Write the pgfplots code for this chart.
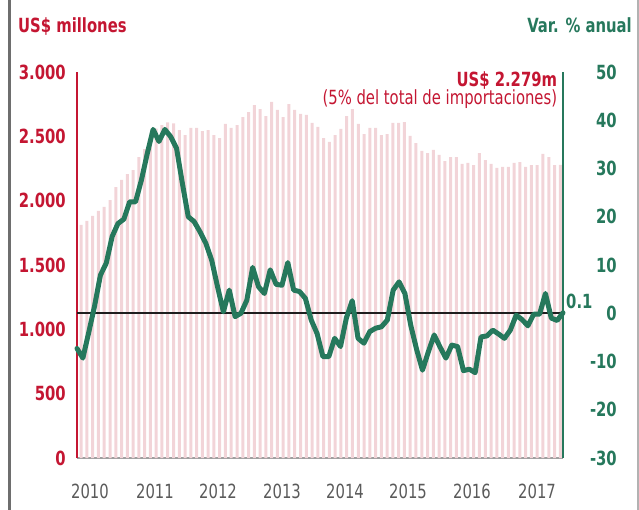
\documentclass[border=0pt]{standalone}
\usepackage{pgfplots}
\usepackage{pgfplotstable}
\pgfplotsset{compat=1.18}
\usepackage{fontspec}
\setmainfont{DejaVu Sans}[FakeStretch=0.76]
\definecolor{cred}{RGB}{196,22,50}
\definecolor{cgreen}{RGB}{38,120,92}
\definecolor{cbar}{RGB}{242,212,216}
\definecolor{cgray}{RGB}{90,90,90}
\definecolor{cframe}{RGB}{110,110,110}
\newcommand{\fs}{\fontsize{19.5bp}{23bp}\selectfont}

\pgfplotstableread{
i v
0 1811
1 1842
2 1881
3 1920
4 1951
5 2005
6 2106
7 2161
8 2207
9 2238
10 2339
11 2400
12 2480
13 2560
14 2588
15 2609
16 2601
17 2549
18 2510
19 2565
20 2565
21 2541
22 2549
23 2510
24 2487
25 2596
26 2565
27 2588
28 2650
29 2689
30 2743
31 2712
32 2658
33 2767
34 2705
35 2650
36 2751
37 2705
38 2674
39 2666
40 2604
41 2573
42 2487
43 2456
44 2510
45 2557
46 2658
47 2712
48 2596
49 2518
50 2565
51 2565
52 2510
53 2518
54 2604
55 2604
56 2611
57 2503
58 2448
59 2386
60 2370
61 2394
62 2355
63 2308
64 2339
65 2339
66 2285
67 2293
68 2277
69 2370
70 2316
71 2285
72 2254
73 2262
74 2262
75 2293
76 2300
77 2262
78 2277
79 2277
80 2363
81 2339
82 2277
83 2279
}\imports

\pgfplotstableread{
j v
0 -7.3
1 -9.3
2 -4.0
3 1.5
4 7.9
5 10.4
6 15.9
7 18.6
8 19.5
9 23.1
10 23.1
11 27.6
12 33.1
13 38.1
14 35.6
15 38.1
16 36.6
17 34.2
18 26.9
19 20.0
20 19.0
21 16.9
22 14.5
23 11.0
24 5.5
25 0.3
26 4.8
27 -0.7
28 0.0
29 2.7
30 9.5
31 5.5
32 4.1
33 9.0
34 6.0
35 5.8
36 10.5
37 4.8
38 4.5
39 3.1
40 -1.4
41 -4.2
42 -9.0
43 -9.0
44 -5.2
45 -6.9
46 -1.0
47 2.6
48 -5.2
49 -6.2
50 -3.8
51 -3.1
52 -2.8
53 -1.4
54 4.8
55 6.5
56 4.1
57 -2.5
58 -7.5
59 -11.8
60 -8.0
61 -4.5
62 -7.0
63 -9.3
64 -6.6
65 -6.9
66 -11.9
67 -11.6
68 -12.3
69 -4.9
70 -4.7
71 -3.5
72 -4.3
73 -5.2
74 -3.5
75 -0.4
76 -1.3
77 -2.6
78 -0.2
79 -0.2
80 4.1
81 -1.0
82 -1.5
83 0.1
}\growth

\begin{document}
\begin{tikzpicture}
\path[use as bounding box] (0,0) rectangle (639bp,510bp);
\draw[line width=2.5bp, cframe] (9.5bp,0) -- (9.5bp,510bp);
\draw[line width=2bp, gray!60] (637.5bp,0) -- (637.5bp,510bp);

\begin{axis}[
  at={(77bp,52bp)}, anchor=south west,
  width=486bp, height=386bp, scale only axis,
  xmin=-0.72, xmax=83.47, ymin=0, ymax=3000,
  axis y line*=left, axis x line*=bottom,
  axis line style={-},
  y axis line style={cred, line width=2bp},
  x axis line style={gray!75, line width=1.5bp},
  major tick length=0pt,
  ytick={0,500,1000,1500,2000,2500,3000},
  yticklabels={0,500,1.000,1.500,2.000,2.500,3.000},
  yticklabel style={font=\fs\bfseries, text=cred, anchor=east, inner sep=0pt, xshift=-11bp},
  xtick={1.53,12.79,23.71,34.80,45.71,56.62,67.70,78.97},
  xticklabels={2010,2011,2012,2013,2014,2015,2016,2017},
  xticklabel style={font=\fs, text=cgray, anchor=north, inner sep=0pt, yshift=-26bp},
  clip=false,
]
\addplot[ybar, bar width=3bp, fill=cbar, draw=none] table[x=i, y=v] {\imports};
\end{axis}

\begin{axis}[
  at={(77bp,52bp)}, anchor=south west,
  width=486bp, height=386bp, scale only axis,
  xmin=0, xmax=83, ymin=-30, ymax=50,
  axis y line*=right, axis x line=none,
  axis line style={-},
  y axis line style={cgreen, line width=2bp},
  major tick length=0pt,
  ytick={-30,-20,-10,0,10,20,30,40,50},
  yticklabels={-30,-20,-10,0,10,20,30,40,50},
  yticklabel style={font=\fs\bfseries, text=cgreen, anchor=east, inner sep=0pt, xshift=54bp},
  clip=false,
]
\addplot[color={rgb,255:red,30;green,30;blue,30}, line width=2bp] coordinates {(0,0) (83,0)};
\addplot[cgreen, line width=5bp, line join=round, line cap=round] table[x=j, y=v] {\growth};
\end{axis}

\node[anchor=base west, text=cred, font=\fs\bfseries, inner sep=0pt] at (18bp,477.7bp) {US\$ millones};
\node[anchor=base east, text=cgreen, font=\fs\bfseries, inner sep=0pt] at (632bp,477.7bp) {Var. \% anual};
\node[anchor=base east, text=cred, font=\fs\bfseries, inner sep=0pt] at (557.3bp,423.8bp) {US\$ 2.279m};
\node[anchor=base east, text=cred, font=\fs, inner sep=0pt] at (557.3bp,405.3bp) {(5\% del total de importaciones)};
\node[anchor=base west, text=cgreen, font=\fs\bfseries, inner sep=0pt] at (566bp,201.7bp) {0.1};
\end{tikzpicture}
\end{document}
